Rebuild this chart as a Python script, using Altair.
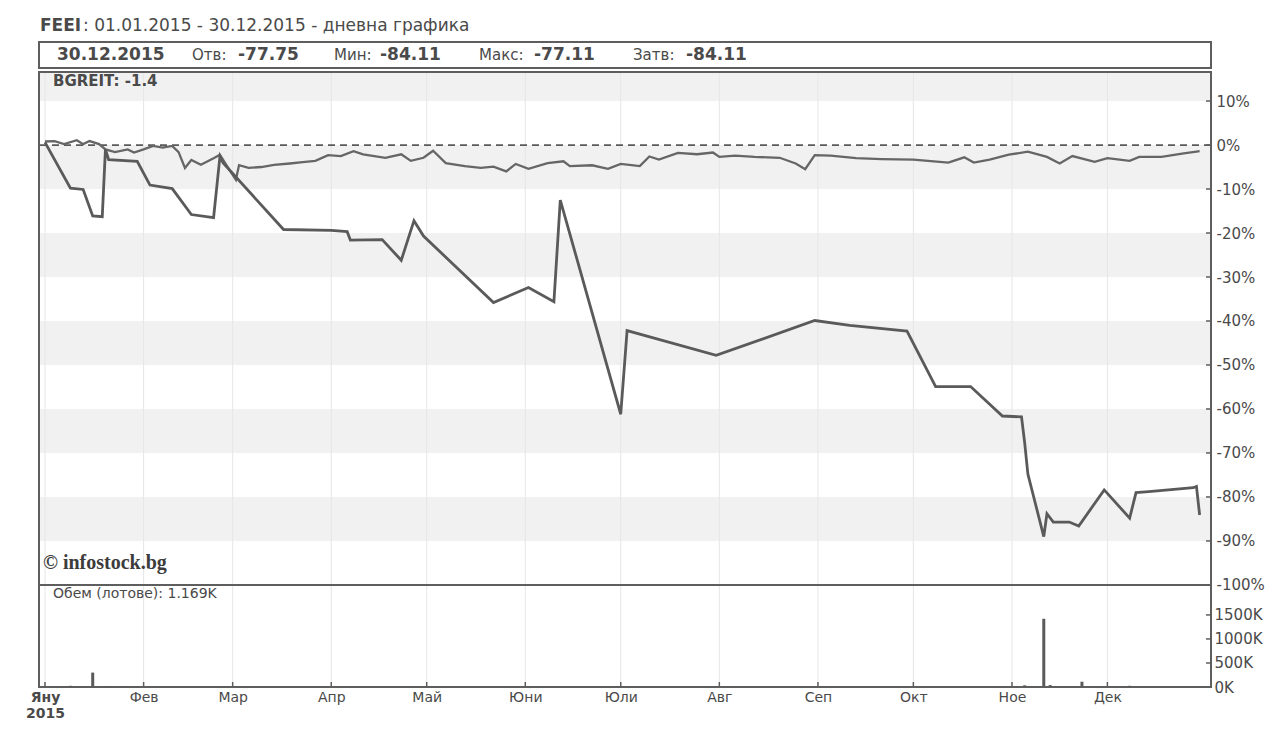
import json
import altair as alt
import pandas as pd

# ---------------- data ----------------
feei_dates = ["2015-01-01", "2015-01-09", "2015-01-13", "2015-01-16", "2015-01-19", "2015-01-20",
              "2015-01-21", "2015-01-30", "2015-02-03", "2015-02-10", "2015-02-16", "2015-02-23",
              "2015-02-25", "2015-02-26", "2015-03-17", "2015-04-01", "2015-04-06", "2015-04-07",
              "2015-04-17", "2015-04-23", "2015-04-27", "2015-04-30", "2015-05-22", "2015-06-02",
              "2015-06-10", "2015-06-12", "2015-07-01", "2015-07-03", "2015-07-31", "2015-08-31",
              "2015-09-11", "2015-09-29", "2015-10-08", "2015-10-19", "2015-10-29", "2015-11-04",
              "2015-11-05", "2015-11-06", "2015-11-11", "2015-11-12", "2015-11-14", "2015-11-19",
              "2015-11-22", "2015-11-30", "2015-12-08", "2015-12-10", "2015-12-14", "2015-12-28",
              "2015-12-29", "2015-12-30"]
feei_values = [0.6, -9.8, -10.1, -16.1, -16.3, -1.0,
               -3.3, -3.7, -9.1, -9.9, -15.8, -16.5,
               -2.6, -4.1, -19.2, -19.4, -19.7, -21.6,
               -21.5, -26.2, -17.2, -20.7, -35.8, -32.4,
               -35.6, -12.5, -61.2, -42.2, -47.8, -39.9,
               -41.0, -42.3, -54.9, -54.9, -61.6, -61.8,
               -67.7, -74.8, -89.0, -83.8, -85.7, -85.7,
               -86.6, -78.4, -84.8, -79.0, -78.8, -77.9,
               -77.6, -84.1]

bgreit_dates = ["2015-01-01", "2015-01-04", "2015-01-07", "2015-01-11", "2015-01-13", "2015-01-15",
                "2015-01-18", "2015-01-20", "2015-01-23", "2015-01-27", "2015-01-29", "2015-02-01",
                "2015-02-04", "2015-02-07", "2015-02-10", "2015-02-12", "2015-02-14", "2015-02-16",
                "2015-02-19", "2015-02-23", "2015-02-25", "2015-02-27", "2015-03-02", "2015-03-03",
                "2015-03-06", "2015-03-10", "2015-03-14", "2015-03-19", "2015-03-23", "2015-03-27",
                "2015-03-31", "2015-04-04", "2015-04-08", "2015-04-11", "2015-04-18", "2015-04-23",
                "2015-04-26", "2015-04-30", "2015-05-03", "2015-05-07", "2015-05-13", "2015-05-18",
                "2015-05-22", "2015-05-26", "2015-05-29", "2015-06-02", "2015-06-08", "2015-06-13",
                "2015-06-15", "2015-06-22", "2015-06-27", "2015-07-01", "2015-07-07", "2015-07-10",
                "2015-07-13", "2015-07-19", "2015-07-25", "2015-07-30", "2015-08-01", "2015-08-06",
                "2015-08-12", "2015-08-20", "2015-08-25", "2015-08-28", "2015-08-31", "2015-09-05",
                "2015-09-13", "2015-09-21", "2015-10-01", "2015-10-12", "2015-10-17", "2015-10-20",
                "2015-10-25", "2015-10-31", "2015-11-06", "2015-11-12", "2015-11-16", "2015-11-20",
                "2015-11-27", "2015-12-01", "2015-12-08", "2015-12-11", "2015-12-18", "2015-12-25",
                "2015-12-29", "2015-12-30"]
bgreit_values = [0.8, 0.9, 0.2, 1.1, 0.2, 0.9,
                 0.2, -1.0, -1.6, -1.0, -1.7, -1.0,
                 -0.2, -0.6, -0.2, -1.6, -5.2, -3.4,
                 -4.5, -3.0, -2.2, -4.5, -7.9, -4.6,
                 -5.2, -5.0, -4.5, -4.2, -3.9, -3.6,
                 -2.3, -2.5, -1.4, -2.1, -2.9, -2.1,
                 -3.6, -2.9, -1.3, -4.1, -4.8, -5.2,
                 -4.9, -6.0, -4.3, -5.4, -4.1, -3.7,
                 -4.8, -4.6, -5.4, -4.3, -4.8, -2.6,
                 -3.3, -1.8, -2.1, -1.7, -2.7, -2.4,
                 -2.7, -2.9, -4.2, -5.5, -2.3, -2.4,
                 -3.0, -3.2, -3.3, -4.0, -2.8, -4.0,
                 -3.3, -2.2, -1.5, -2.7, -4.2, -2.5,
                 -3.8, -3.0, -3.6, -2.7, -2.7, -1.9,
                 -1.5, -1.4]

volume_dates = ["2015-01-09", "2015-01-16", "2015-01-21", "2015-01-26", "2015-02-03", "2015-03-02",
                "2015-05-05", "2015-06-02", "2015-07-01", "2015-07-03", "2015-10-08", "2015-10-29",
                "2015-11-05", "2015-11-11", "2015-11-13", "2015-11-23", "2015-12-08", "2015-12-30"]
volume_values = [25, 300, 20, 15, 10, 10,
                 10, 10, 15, 10, 8, 10,
                 35, 1420, 40, 110, 25, 1.169]   # thousand lots

month_starts = ["2015-%02d-01" % m for m in range(1, 13)]
month_labels = ["Яну", "Фев", "Мар", "Апр", "Май", "Юни", "Юли", "Авг", "Сеп", "Окт", "Ное", "Дек"]
year_label = "2015"
pct_ticks = [10, 0, -10, -20, -30, -40, -50, -60, -70, -80, -90, -100]
vol_ticks = [0, 500, 1000, 1500]
band_tops = [16.6, 0, -20, -40, -60, -80]
band_bottoms = [10, -10, -30, -50, -70, -90]

title_code = "FEEI"
title_rest = ": 01.01.2015 - 30.12.2015 - дневна графика"
info_date = "30.12.2015"
info_names = ["Отв:", "Мин:", "Макс:", "Затв:"]
info_values = ["-77.75", "-84.11", "-77.11", "-84.11"]
index_label = "BGREIT: -1.4"
volume_label = "Обем (лотове): 1.169K"
copyright_label = "© infostock.bg"

# ---------------- style / layout ----------------
FONT = "DejaVu Sans"
TXT = "#4a4a4a"
LINE = "#5a5a5a"
FRAME = "#5e5e5e"
BAND = "#f1f1f1"
GRID = "#e6e6e6"
W, H = 1171, 615
PCT_DOMAIN = [-123.2, 16.6]
VOL_DOMAIN = [0, 12800]


def ts(d):
    return d + "T00:00:00"


x_scale = alt.Scale(domain=[alt.DateTime(year=2015, month=1, date=1),
                            alt.DateTime(year=2016, month=1, date=1)], nice=False)
label_expr = ("month(datum.value) == 0 ? ['%s', '%s'] : %s[month(datum.value)]"
              % (month_labels[0], year_label, json.dumps(month_labels, ensure_ascii=False)))
x_axis = alt.Axis(values=[alt.DateTime(year=2015, month=m, date=1) for m in range(1, 13)],
                  labelExpr=label_expr, title=None, orient="bottom", grid=False, ticks=False,
                  domain=False, labelFont=FONT, labelFontSize=14, labelColor=TXT, labelPadding=3,
                  labelLineHeight=16, labelFlush=False, labelOverlap=False, labelBound=False,
                  labelFontWeight={"condition": {"test": "month(datum.value) == 0", "value": "bold"},
                                   "value": "normal"})

pct_scale = alt.Scale(domain=PCT_DOMAIN, nice=False, zero=False)
pct_axis = alt.Axis(orient="right", values=pct_ticks, labelExpr="datum.value + '%'", title=None,
                    grid=False, ticks=False, domain=False, labelFont=FONT, labelFontSize=15,
                    labelColor=TXT, labelPadding=5, labelOverlap=False, labelBound=False,
                    labelFlush=False)
vol_scale = alt.Scale(domain=VOL_DOMAIN, nice=False, zero=True)
vol_axis = alt.Axis(orient="right", values=vol_ticks, labelExpr="datum.value + 'K'", title=None,
                    grid=False, ticks=False, domain=False, labelFont=FONT, labelFontSize=15,
                    labelColor=TXT, labelPadding=3, labelOverlap=False, labelBound=False,
                    labelFlush=False)


def X(field):
    return alt.X(field + ":T", scale=x_scale, axis=x_axis)


def Y(field):
    return alt.Y(field + ":Q", scale=pct_scale, axis=pct_axis)


def Ydat(v):
    return alt.YDatum(v, type="quantitative", scale=pct_scale, axis=pct_axis)


def Yv(field):
    return alt.Y(field + ":Q", scale=vol_scale, axis=vol_axis)


one = pd.DataFrame({"k": [0]})
feei_df = pd.DataFrame({"date": [ts(d) for d in feei_dates], "val": feei_values})
bg_df = pd.DataFrame({"date": [ts(d) for d in bgreit_dates], "val": bgreit_values})
vol_df = pd.DataFrame({"date": [ts(d) for d in volume_dates], "vol": volume_values})
months_df = pd.DataFrame({"date": [ts(d) for d in month_starts]})
bands_df = pd.DataFrame({"top": band_tops, "bot": band_bottoms})
pt_df = pd.DataFrame({"t": pct_ticks})
vt_df = pd.DataFrame({"t": vol_ticks})


def label(txt, x, y, size, weight="normal", font=FONT, color=TXT):
    return alt.Chart(one).mark_text(text=txt, align="left", baseline="middle", fontSize=size,
                                    fontWeight=weight, font=font, color=color).encode(
        x=alt.value(x), y=alt.value(y))


bands = alt.Chart(bands_df).mark_rect(color=BAND).encode(
    x=alt.value(0), x2=alt.value(W), y=Y("top"), y2=alt.Y2("bot:Q"))
grid = alt.Chart(months_df).mark_rule(color=GRID, strokeWidth=1).encode(
    x=X("date"), y=alt.value(0), y2=alt.value(H))
zero_line = alt.Chart(one).mark_rule(color=LINE, strokeDash=[7, 5], strokeWidth=1.8).encode(
    x=alt.value(0), x2=alt.value(W), y=Ydat(0))
separator = alt.Chart(one).mark_rule(color=FRAME, strokeWidth=2).encode(
    x=alt.value(0), x2=alt.value(W), y=Ydat(-100))
bg_line = alt.Chart(bg_df).mark_line(color="#666666", strokeWidth=2.3).encode(x=X("date"), y=Y("val"))
feei_line = alt.Chart(feei_df).mark_line(color=LINE, strokeWidth=2.8).encode(x=X("date"), y=Y("val"))
pct_tick_marks = alt.Chart(pt_df).mark_rule(color=FRAME, strokeWidth=1.5).encode(
    x=alt.value(W - 5), x2=alt.value(W), y=Y("t"))
bottom_ticks = alt.Chart(months_df).mark_rule(color=FRAME, strokeWidth=1.5).encode(
    x=X("date"), y=alt.value(H - 5), y2=alt.value(H))
frame = alt.Chart(one).mark_rect(fillOpacity=0, stroke=FRAME, strokeWidth=2).encode(
    x=alt.value(-1), x2=alt.value(W), y=alt.value(0), y2=alt.value(H))
info_box = alt.Chart(one).mark_rect(fillOpacity=0, stroke=FRAME, strokeWidth=2).encode(
    x=alt.value(-1), x2=alt.value(W), y=alt.value(-30), y2=alt.value(-4))

texts = [
    label(title_code, 0, -46, 17, "bold"),
    label(title_rest, 43, -46, 17),
    label(info_date, 17, -17, 17, "bold"),
]
name_x = [152, 294, 439, 593]
value_x = [198, 340, 494, 646]
for nm, vx, nx, vv in zip(info_names, value_x, name_x, info_values):
    texts.append(label(nm, nx, -17, 15))
    texts.append(label(vv, vx, -17, 17, "bold"))
texts += [
    label(index_label, 13, 9, 15, "bold"),
    label(copyright_label, 3, 491, 20, "bold", font="Liberation Serif", color="#3c3c3c"),
    label(volume_label, 13, 522, 14),
]

main = alt.layer(bands, grid, zero_line, separator, bg_line, feei_line, pct_tick_marks,
                 bottom_ticks, frame, info_box, *texts)

vol_bars = alt.Chart(vol_df).mark_bar(color=LINE, size=3).encode(x=X("date"), y=Yv("vol"))
vol_tick_marks = alt.Chart(vt_df).mark_rule(color=FRAME, strokeWidth=1.5).encode(
    x=alt.value(W - 5), x2=alt.value(W), y=Yv("t"))
vol = alt.layer(vol_bars, vol_tick_marks)

chart = alt.layer(main, vol).resolve_scale(y="independent").properties(
    width=W, height=H,
    autosize=alt.AutoSizeParams(type="none"),
    padding={"left": 32, "top": 64, "right": 62, "bottom": 34},
    background="white",
).configure_view(stroke=None)

chart.save("out.html", embed_options={"renderer": "svg", "actions": False})
